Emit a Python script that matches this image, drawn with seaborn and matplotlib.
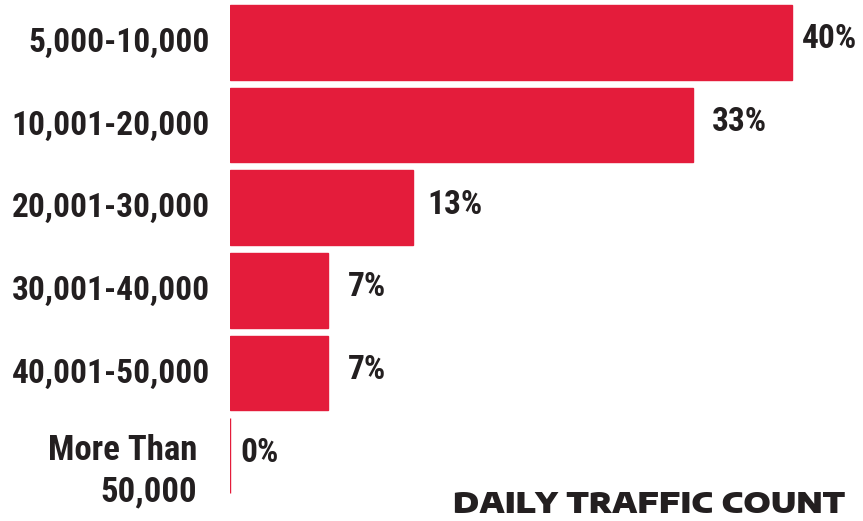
import matplotlib
matplotlib.use("Agg")
import matplotlib.pyplot as plt
import matplotlib.transforms as mtransforms
import seaborn as sns
import pandas as pd

# Share of sites by daily traffic count
ranges = ["5,000-10,000", "10,001-20,000", "20,001-30,000",
          "30,001-40,000", "40,001-50,000", "More Than\n50,000"]
shares = [40, 33, 13, 7, 7, 0]

df = pd.DataFrame({"range": ranges, "share": shares})

red = "#E41C3B"
ink = "#231F20"

sns.set_style("white")
plt.rcParams["font.family"] = ["Roboto Condensed", "DejaVu Sans"]

fig = plt.figure(figsize=(8.63, 5.21), dpi=100)
ax = fig.add_axes([230 / 863, 24 / 521, 633 / 863, 496 / 521])

sns.barplot(data=df, x="share", y="range", color=red, saturation=1,
            width=0.9, edgecolor=red, linewidth=1, ax=ax)

ax.set_xlim(0, 45.08)
ax.set_xlabel("")
ax.set_ylabel("")
ax.set_xticks([])
sns.despine(ax=ax, left=True, bottom=True)

# category labels
ax.tick_params(axis="y", length=0, pad=14.4)
up = mtransforms.ScaledTranslation(0, 3 / 100, fig.dpi_scale_trans)
for i, t in enumerate(ax.get_yticklabels()):
    t.set_fontsize(24)
    t.set_fontweight("bold")
    t.set_color(ink)
    t.set_linespacing(1.3)
    if i == len(ranges) - 1:
        t.set_fontsize(25)
        t.set_transform(t.get_transform() + mtransforms.ScaledTranslation(-13 / 100, -8 / 100, fig.dpi_scale_trans))
    else:
        t.set_transform(t.get_transform() + up)

# value labels
pads = [10, 18, 15, 20, 20, 10]
for cont in ax.containers:
    anns = ax.bar_label(cont, labels=[f"{v}%" for v in shares], padding=8,
                        fontsize=24, fontweight="bold", color=ink)
    for a, p in zip(anns, pads):
        a.xyann = (p * 0.72, 3 * 0.72)

fig.text(845 / 863, 2 / 521, "DAILY TRAFFIC COUNT", ha="right", va="bottom",
         fontsize=21, fontweight=900, color=ink,
         family=["Encode Sans Expanded", "DejaVu Sans"])

fig.savefig("out.png", dpi=100)
